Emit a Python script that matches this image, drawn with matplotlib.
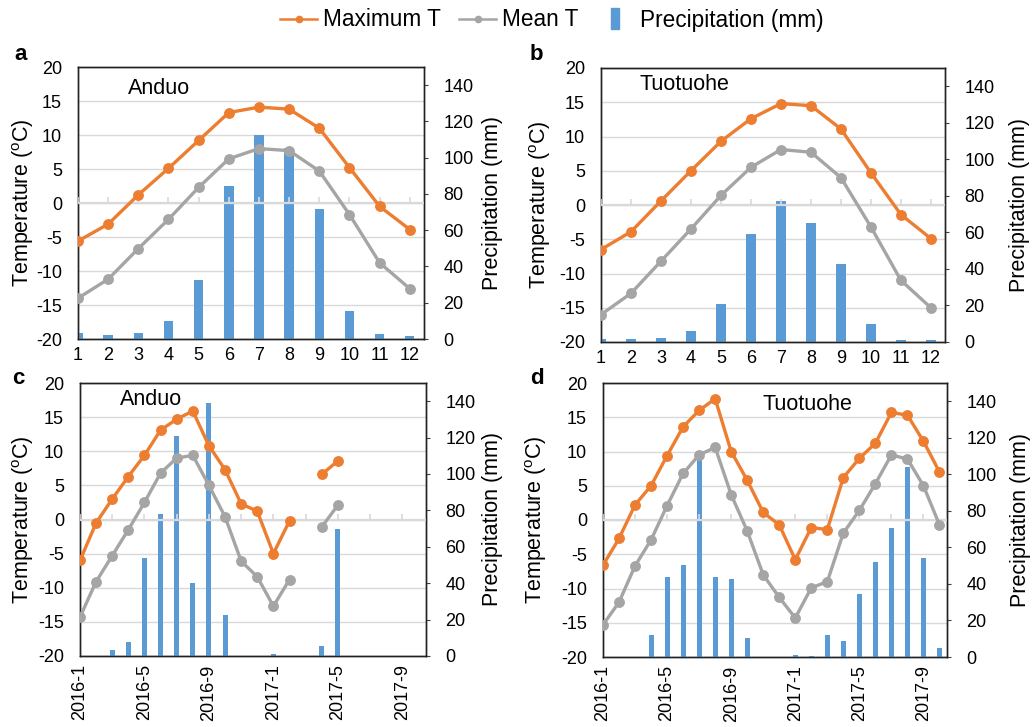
import numpy as np
import matplotlib
matplotlib.use("Agg")
import matplotlib.pyplot as plt
from matplotlib.lines import Line2D
from matplotlib.patches import Rectangle
from matplotlib.legend_handler import HandlerPatch

plt.rcParams['font.family'] = ['Liberation Sans', 'DejaVu Sans']
plt.rcParams['axes.unicode_minus'] = False

# ---------------- data ----------------
months = [1, 2, 3, 4, 5, 6, 7, 8, 9, 10, 11, 12]
month_labels = [str(m) for m in months]

a_tmax = [-5.6, -3.1, 1.2, 5.1, 9.2, 13.3, 14.1, 13.8, 11.0, 5.2, -0.5, -3.9]
a_tmean = [-14.0, -11.2, -6.7, -2.4, 2.3, 6.5, 8.0, 7.7, 4.7, -1.7, -8.8, -12.6]
a_prec = [3.3, 2.2, 3.1, 9.7, 32.3, 84.4, 112.5, 105.5, 71.7, 15.2, 2.8, 1.8]

b_tmax = [-6.5, -3.9, 0.6, 5.0, 9.3, 12.6, 14.8, 14.5, 11.1, 4.7, -1.4, -4.9]
b_tmean = [-16.0, -12.9, -8.2, -3.5, 1.4, 5.5, 8.1, 7.7, 4.0, -3.2, -11.0, -15.0]
b_prec = [1.8, 1.8, 2.2, 6.0, 20.8, 58.9, 77.3, 65.4, 42.8, 10.0, 1.1, 1.3]

series_months = ['2016-1', '2016-2', '2016-3', '2016-4', '2016-5', '2016-6',
                 '2016-7', '2016-8', '2016-9', '2016-10', '2016-11', '2016-12',
                 '2017-1', '2017-2', '2017-3', '2017-4', '2017-5', '2017-6',
                 '2017-7', '2017-8', '2017-9', '2017-10']
nan = np.nan
c_tmax = [-6.0, -0.5, 3.0, 6.3, 9.4, 13.1, 14.7, 15.9, 10.8, 7.3, 2.3, 1.2,
          -5.0, -0.2, nan, 6.6, 8.6, nan, nan, nan, nan, nan]
c_tmean = [-14.3, -9.1, -5.3, -1.5, 2.5, 6.8, 9.0, 9.4, 5.0, 0.4, -6.1, -8.4,
           -12.7, -8.8, nan, -1.1, 2.1, nan, nan, nan, nan, nan]
c_prec = [0.0, 0.0, 3.5, 7.7, 53.7, 77.9, 121.1, 40.0, 139.1, 22.4, 0.0, 0.0,
          1.3, 0.0, nan, 5.3, 69.8, nan, nan, nan, nan, nan]

d_tmax = [-6.6, -2.7, 2.2, 5.0, 9.4, 13.6, 16.0, 17.7, 10.0, 5.8, 1.1, -0.7,
          -5.8, -1.1, -1.4, 6.2, 9.0, 11.2, 15.7, 15.3, 11.5, 7.0]
d_tmean = [-15.3, -12.0, -6.7, -2.9, 2.1, 6.8, 9.5, 10.6, 3.7, -1.6, -8.0, -11.3,
           -14.3, -9.9, -9.0, -1.9, 1.4, 5.3, 9.5, 8.9, 5.0, -0.7]
d_prec = [0.0, 0.0, 0.0, 12.1, 43.9, 50.1, 107.6, 43.7, 42.8, 10.4, 0.0, 0.0,
          1.1, 0.4, 12.1, 8.6, 34.4, 52.2, 70.5, 104.1, 54.2, 4.9]

# ---------------- style ----------------
C_MAX = '#ED7D31'
C_MEAN = '#A5A5A5'
C_PREC = '#5B9BD5'
C_GRID = '#D9D9D9'

W, H = 1035, 727
fig = plt.figure(figsize=(W / 100, H / 100), dpi=100)


def px_axes(left, top, right, bottom):
    return [left / W, 1 - bottom / H, (right - left) / W, (bottom - top) / H]


def panel(rect, labels, tmax, tmean, prec, station, st_xy, letter, letter_xy,
          date_axis, lab_x):
    n = len(labels)
    x = np.arange(n)
    ax_t = fig.add_axes(rect)
    ax_p = ax_t.twinx()
    ax_l = fig.add_axes(rect, sharex=ax_t, sharey=ax_t)
    ax_l.set_zorder(ax_p.get_zorder() + 1)
    ax_l.patch.set_visible(False)
    ax_l.axis('off')

    # temperature scale + grid
    ax_t.set_ylim(-20, 20)
    ax_t.set_yticks(np.arange(-20, 21, 5))
    ax_t.yaxis.grid(True, color=C_GRID, lw=1.0)
    ax_t.set_axisbelow(True)
    ax_t.tick_params(axis='y', length=0, labelsize=13, pad=11.5)
    ax_t.set_ylabel('Temperature ($\\mathregular{^{o}}$C)', fontsize=15.5)
    ax_t.yaxis.set_label_coords(lab_x[0], 0.5)

    # precipitation bars
    ax_p.bar(x, prec, width=0.31, color=C_PREC, zorder=2)
    ax_p.set_ylim(0, 150)
    ax_p.set_yticks(np.arange(0, 141, 20))
    ax_p.tick_params(axis='y', length=3, direction='out', labelsize=13,
                     pad=11, color='#404040')
    ax_p.set_ylabel('Precipitation (mm)', fontsize=15.5)
    ax_p.yaxis.set_label_coords(lab_x[1], 0.5)

    # zero axis line with small tick marks, then temperature lines
    ax_l.axhline(0, color=C_GRID, lw=1.6, zorder=1)
    tick_step = 2 if date_axis else 1
    ax_l.plot(x[::tick_step], np.zeros(len(x[::tick_step])), ls='none',
              marker=2, markersize=4, color=C_GRID, mew=1.2, zorder=1)
    ax_l.plot(x, tmean, color=C_MEAN, lw=2.4, marker='o', markersize=6.8,
              zorder=3)
    ax_l.plot(x, tmax, color=C_MAX, lw=2.4, marker='o', markersize=6.8,
              zorder=4)

    ax_t.set_xlim(0, n - 1 + 0.47)
    if date_axis:
        ax_t.set_xticks(x[::4])
        ax_t.set_xticklabels(labels[::4], rotation=90, fontsize=13)
    else:
        ax_t.set_xticks(x)
        ax_t.set_xticklabels(labels, fontsize=13)
    ax_t.tick_params(axis='x', length=0, pad=6)

    for ax in (ax_t, ax_p):
        for s in ax.spines.values():
            s.set_color('#222222')
            s.set_linewidth(1.0)

    ax_l.text(st_xy[0], st_xy[1], station, transform=ax_l.transAxes,
              fontsize=15.5, va='center', ha='left')
    fig.text(letter_xy[0] / W, 1 - letter_xy[1] / H, letter, fontsize=16,
             fontweight='bold', va='center', ha='left')


panel(px_axes(78, 67, 424, 339), month_labels, a_tmax, a_tmean, a_prec,
      'Anduo', (0.145, 0.92), 'a', (14, 54), False, (-0.122, 1.168))
panel(px_axes(601, 68, 945, 342), month_labels, b_tmax, b_tmean, b_prec,
      'Tuotuohe', (0.113, 0.94), 'b', (530, 54), False, (-0.140, 1.186))
panel(px_axes(80, 383, 426, 656), series_months, c_tmax, c_tmean, c_prec,
      'Anduo', (0.116, 0.94), 'c', (12, 378), True, (-0.128, 1.162))
panel(px_axes(603, 383, 947, 657), series_months, d_tmax, d_tmean, d_prec,
      'Tuotuohe', (0.465, 0.92), 'd', (530, 378), True, (-0.157, 1.183))


# ---------------- legend ----------------
def narrow_patch(legend, orig_handle, xdescent, ydescent, width, height,
                 fontsize):
    return Rectangle((width / 2 - 3 - xdescent, -ydescent - 2), 6, height + 4)


handles = [
    Line2D([], [], color=C_MAX, lw=1.8, marker='o', markersize=4.5),
    Line2D([], [], color=C_MEAN, lw=1.8, marker='o', markersize=4.5),
    Rectangle((0, 0), 1, 1, color=C_PREC),
]
fig.legend(handles, ['Maximum T', 'Mean T', 'Precipitation (mm)'],
           loc='center', bbox_to_anchor=(552 / W, 1 - 20 / H), ncol=3,
           frameon=False, fontsize=16.3, handlelength=1.6, handletextpad=0.3,
           columnspacing=0.8,
           handler_map={Rectangle: HandlerPatch(patch_func=narrow_patch)})

fig.savefig('out.png', dpi=100)
